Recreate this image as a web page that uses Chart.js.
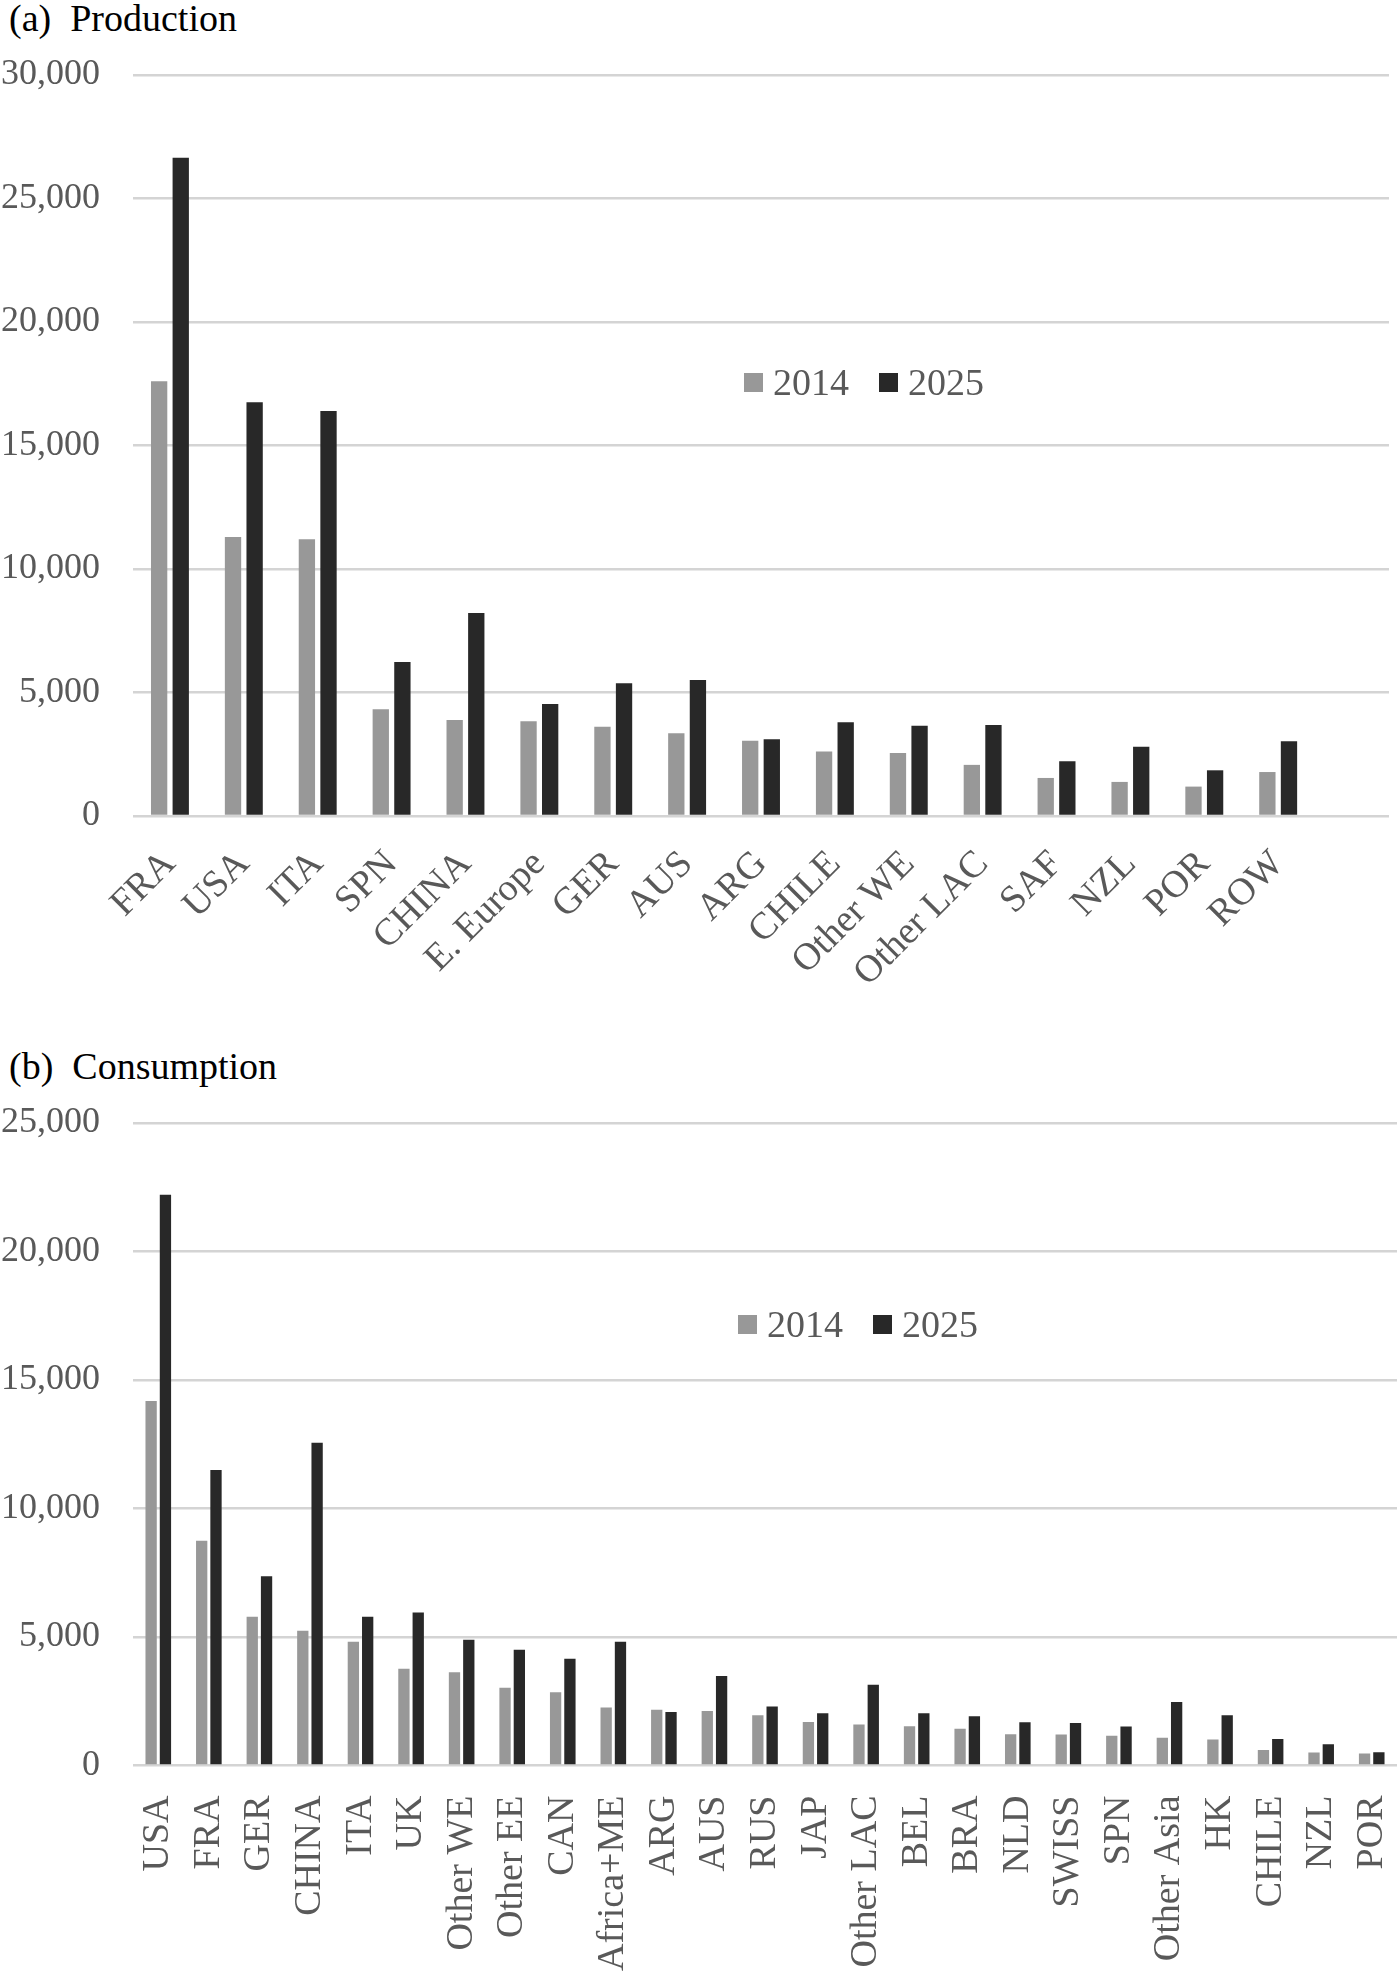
<!DOCTYPE html>
<html lang="en">
<head>
    <meta charset="UTF-8">
    <title>Production and consumption, 2014 and 2025</title>
    <script src="https://cdn.jsdelivr.net/npm/chart.js"></script>
    <style>
        body {
            margin: 0;
            padding: 0;
            background: #ffffff;
            font-family: "Liberation Serif", "Times New Roman", serif;
        }
        #page {
            position: relative;
            width: 1400px;
            height: 1974px;
        }
        .panel-title {
            position: absolute;
            left: 9px;
            font-size: 38px;
            line-height: 38px;
            color: #000000;
            white-space: pre;
        }
        .legend {
            position: absolute;
            display: flex;
            align-items: center;
            font-size: 38px;
            line-height: 38px;
            color: #595959;
            height: 38px;
        }
        .legend span.box {
            display: inline-block;
            width: 19px;
            height: 19px;
            margin-right: 10px;
        }
        .legend span.item {
            display: flex;
            align-items: center;
        }
        .chart-box {
            position: absolute;
            left: 0;
            width: 1400px;
        }
    </style>
</head>
<body>
<div id="page">
    <div class="panel-title" style="top: -1px;">(a)  Production</div>
    <div class="chart-box" style="top: 0; height: 1040px;">
        <canvas id="prodChart" width="1400" height="1040"></canvas>
    </div>
    <div class="legend" id="legendA" style="left: 744px; top: 363px;"></div>

    <div class="panel-title" style="top: 1047px;">(b)  Consumption</div>
    <div class="chart-box" style="top: 1040px; height: 934px;">
        <canvas id="consChart" width="1400" height="934"></canvas>
    </div>
    <div class="legend" id="legendB" style="left: 738px; top: 1305px;"></div>
</div>

<script>
    // (a) Production, last slot left empty as in the original plot area
    const prodRegions = ['FRA', 'USA', 'ITA', 'SPN', 'CHINA', 'E. Europe', 'GER', 'AUS', 'ARG',
        'CHILE', 'Other WE', 'Other LAC', 'SAF', 'NZL', 'POR', 'ROW', ''];
    const prod2014 = [17600, 11300, 11200, 4320, 3890, 3840, 3610, 3350, 3050,
        2610, 2550, 2070, 1540, 1380, 1190, 1780, null];
    const prod2025 = [26650, 16750, 16400, 6230, 8220, 4530, 5370, 5510, 3110,
        3800, 3650, 3680, 2220, 2800, 1850, 3030, null];

    // (b) Consumption
    const consRegions = ['USA', 'FRA', 'GER', 'CHINA', 'ITA', 'UK', 'Other WE', 'Other EE', 'CAN',
        'Africa+ME', 'ARG', 'AUS', 'RUS', 'JAP', 'Other LAC', 'BEL', 'BRA', 'NLD', 'SWISS',
        'SPN', 'Other Asia', 'HK', 'CHILE', 'NZL', 'POR'];
    const cons2014 = [14180, 8750, 5790, 5240, 4820, 3760, 3630, 3030, 2850,
        2260, 2170, 2120, 1960, 1690, 1600, 1530, 1430, 1220, 1210,
        1160, 1080, 1010, 600, 510, 470];
    const cons2025 = [22210, 11500, 7360, 12560, 5790, 5950, 4890, 4500, 4150,
        4820, 2080, 3480, 2300, 2030, 3140, 2030, 1920, 1680, 1650,
        1520, 2470, 1960, 1030, 830, 520];

    const yearLabels = ['2014', '2025'];
    const yearColors = ['#989898', '#282828'];

    const serif = '"Liberation Serif", "Times New Roman", serif';
    const tickGray = '#595959';

    function buildLegend(id) {
        const el = document.getElementById(id);
        yearLabels.forEach((y, i) => {
            const item = document.createElement('span');
            item.className = 'item';
            item.style.marginRight = i === 0 ? '30px' : '0';
            item.innerHTML = '<span class="box" style="background:' + yearColors[i] + '"></span>' + y;
            el.appendChild(item);
        });
    }
    buildLegend('legendA');
    buildLegend('legendB');

    function makeChart(canvasId, labels, d14, d25, opts) {
        const ctx = document.getElementById(canvasId).getContext('2d');
        return new Chart(ctx, {
            type: 'bar',
            data: {
                labels: labels,
                datasets: [{
                    label: yearLabels[0],
                    data: d14,
                    backgroundColor: yearColors[0],
                    borderWidth: 0,
                    barPercentage: opts.barPct,
                    categoryPercentage: opts.catPct
                }, {
                    label: yearLabels[1],
                    data: d25,
                    backgroundColor: yearColors[1],
                    borderWidth: 0,
                    barPercentage: opts.barPct,
                    categoryPercentage: opts.catPct
                }]
            },
            options: {
                responsive: false,
                animation: false,
                layout: {
                    padding: { top: opts.top, right: opts.right, left: 0, bottom: 0 }
                },
                plugins: {
                    legend: { display: false },
                    title: { display: false },
                    tooltip: { enabled: false }
                },
                scales: {
                    x: {
                        grid: { display: false },
                        border: { display: false },
                        ticks: {
                            autoSkip: false,
                            maxRotation: opts.rot,
                            minRotation: opts.rot,
                            padding: opts.xPad,
                            color: tickGray,
                            font: { family: serif, size: 38 }
                        },
                        afterFit: (scale) => {
                            scale.height = opts.xHeight;
                            // rotated end labels must not shrink the plot area
                            scale.paddingLeft = 0;
                            scale.paddingRight = 0;
                        }
                    },
                    y: {
                        min: 0,
                        max: opts.yMax,
                        grid: {
                            color: '#d4d4d4',
                            lineWidth: 2.5,
                            drawTicks: false
                        },
                        border: { display: false },
                        ticks: {
                            stepSize: 5000,
                            padding: 33,
                            color: tickGray,
                            font: { family: serif, size: 36 },
                            callback: (v) => v.toLocaleString('en-US')
                        },
                        afterFit: (scale) => { scale.width = 133; }
                    }
                }
            }
        });
    }

    makeChart('prodChart', prodRegions, prod2014, prod2025, {
        barPct: 0.755, catPct: 0.585, top: 75, right: 11,
        rot: 45, xPad: 18, xHeight: 224, yMax: 30000
    });

    makeChart('consChart', consRegions, cons2014, cons2025, {
        barPct: 0.79, catPct: 0.566, top: 83, right: 3,
        rot: 90, xPad: 22, xHeight: 208.5, yMax: 25000
    });
</script>
</body>
</html>
